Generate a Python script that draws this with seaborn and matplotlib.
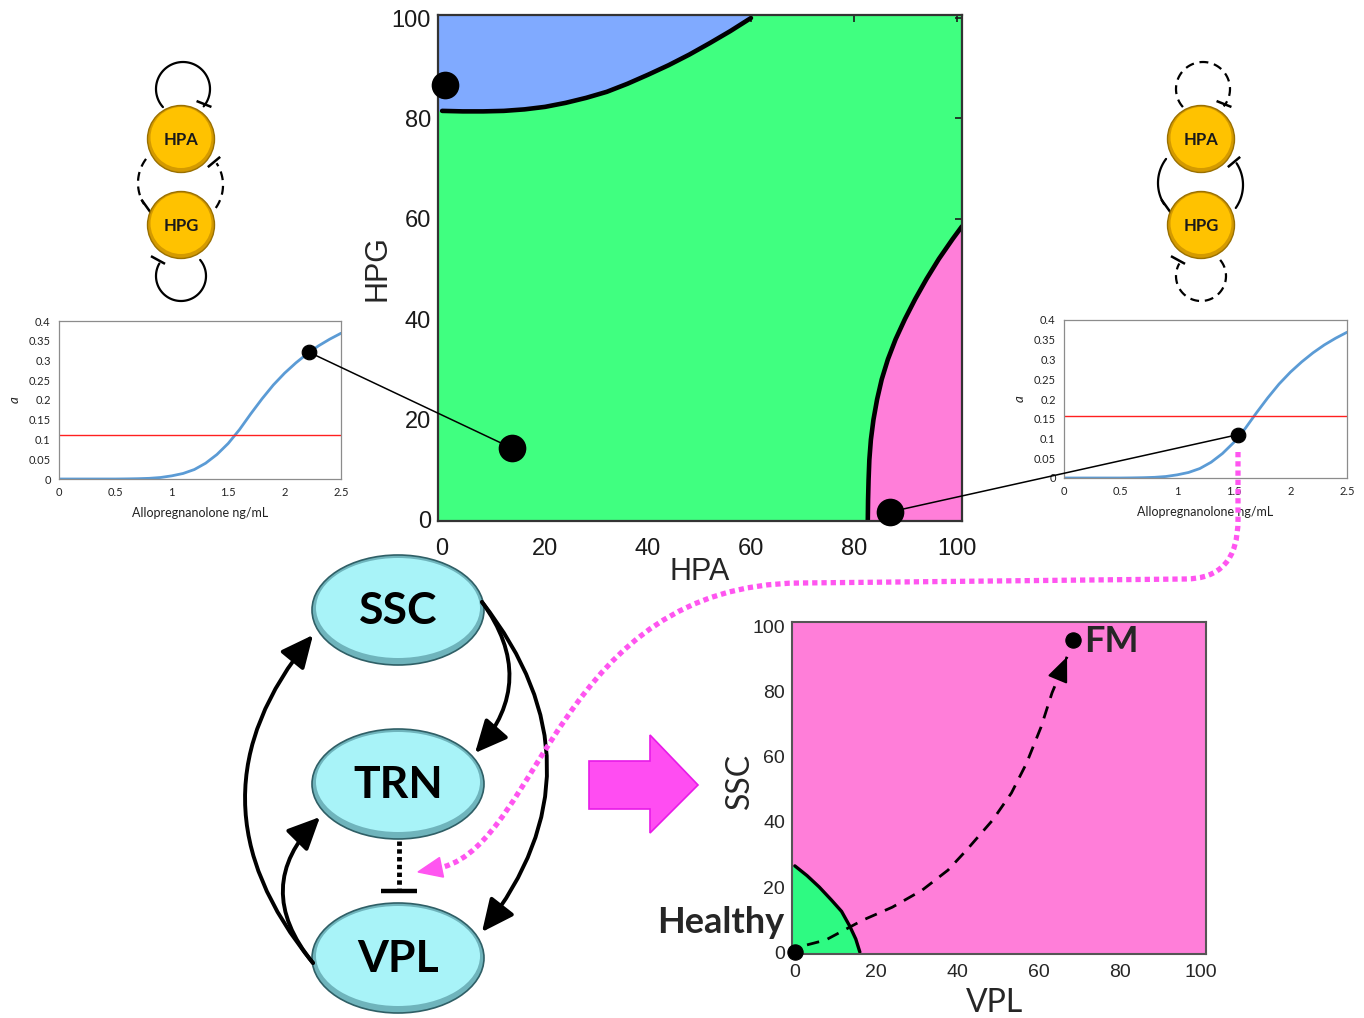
import numpy as np
import seaborn as sns
import matplotlib.pyplot as plt
from matplotlib.patches import Ellipse, Circle, Polygon, FancyArrowPatch, ConnectionPatch, PathPatch
from matplotlib.path import Path

# ---------------- data ----------------
# sigmoid alpha response vs allopregnanolone (both side panels)
allo = [0.0, 0.1, 0.2, 0.3, 0.4, 0.5, 0.6, 0.7, 0.8, 0.9, 1.0, 1.1, 1.2, 1.3,
        1.4, 1.5, 1.6, 1.7, 1.8, 1.9, 2.0, 2.1, 2.2, 2.3, 2.4, 2.5]
alpha = [0.0, 0.0, 0.0, 0.0, 0.0, 0.0, 0.0003, 0.0008, 0.0017, 0.0038, 0.008, 0.014,
         0.024, 0.040, 0.062, 0.090, 0.125, 0.165, 0.203, 0.238, 0.268, 0.294,
         0.317, 0.337, 0.354, 0.369]
threshold_left = 0.111
threshold_right = 0.158
point_left = (2.216, 0.321)
point_right = (1.54, 0.110)

# HPA / HPG phase plane
blue_hpa = [0, 4, 8, 12, 16, 20, 24, 28, 32, 36, 40, 44, 48, 52, 56, 60]
blue_hpg = [81.5, 81.4, 81.4, 81.5, 81.8, 82.3, 83.1, 84.1, 85.3, 86.9, 88.7, 90.6,
            92.7, 95.0, 97.4, 100]
pink_hpg = [0, 4, 8, 12, 16, 20, 24, 28, 32, 36, 40, 44, 48, 52, 56, 58.5]
pink_hpa = [82.7, 82.75, 82.85, 83.0, 83.3, 83.8, 84.5, 85.4, 86.6, 88.1, 89.9, 91.9,
            94.1, 96.5, 99.2, 101]
state_hpa = [0.5, 13.6, 87.0]
state_hpg = [86.7, 14.3, 1.6]

# VPL / SSC phase plane
healthy_vpl = [0, 3, 6, 9, 11.5, 13.5, 15, 16]
healthy_ssc = [26.5, 23.5, 20, 16, 12.5, 8, 4, 0]
traj_vpl = [3, 7.6, 16.7, 24, 31.3, 37.7, 42.3, 48.7, 53.3, 57, 60.6, 63.3, 67]
traj_ssc = [2.2, 3.7, 9.8, 13.8, 19, 25.2, 31.4, 40.6, 48.9, 58, 69.2, 79.7, 90.8]
fix_vpl = [0, 68.4]
fix_ssc = [0, 96]
fix_names = ["Healthy", "FM"]

ticks_100 = [0, 20, 40, 60, 80, 100]
allo_ticks = [0, 0.5, 1, 1.5, 2, 2.5]
alpha_ticks = [0, 0.05, 0.1, 0.15, 0.2, 0.25, 0.3, 0.35, 0.4]

GREEN = '#40FF80'
BLUE = '#80AAFF'
PINK = '#FF7ED9'
CURVE = '#5B9BD5'
MAGENTA = '#FF55F0'

sns.set_theme(style="white")
plt.rcParams['font.family'] = ['Liberation Sans', 'DejaVu Sans']
CAL = ['Lato', 'DejaVu Sans']

W, H = 1364, 1018
fig = plt.figure(figsize=(W / 100, H / 100), dpi=100)
fig.patch.set_facecolor('white')


def place(x0, y0, x1, y1):
    return fig.add_axes([x0 / W, 1 - y1 / H, (x1 - x0) / W, (y1 - y0) / H])


# ---------------- side panels ----------------
def side_panel(box, thr, pt):
    ax = place(*box)
    sns.lineplot(x=allo, y=alpha, color=CURVE, lw=2, ax=ax)
    ax.axhline(thr, color='#FF2020', lw=1)
    sns.scatterplot(x=[pt[0]], y=[pt[1]], s=110, color='black', edgecolor='black',
                    zorder=5, clip_on=False, ax=ax)
    ax.set_xlim(0, 2.5)
    ax.set_ylim(0, 0.4)
    ax.set_xticks(allo_ticks)
    ax.set_xticklabels([f"{v:g}" for v in allo_ticks], family=CAL, fontsize=8)
    ax.set_yticks(alpha_ticks)
    ax.set_yticklabels([f"{v:g}" for v in alpha_ticks], family=CAL, fontsize=8)
    ax.tick_params(length=0, pad=6, colors='#222222')
    for s in ax.spines.values():
        s.set_visible(True)
        s.set_color('#8C8C8C')
        s.set_linewidth(0.9)
    ax.set_xlabel("Allopregnanolone ng/mL", family=CAL, fontsize=9, color='#222222')
    ax.set_ylabel("a", family=CAL, fontsize=9.5, style='italic', color='#222222')
    ax.xaxis.set_label_coords(0.5, -0.18)
    ax.yaxis.set_label_coords(-0.135, 0.5)
    return ax


ax_l = side_panel((59, 321, 341, 479), threshold_left, point_left)
ax_r = side_panel((1064, 320, 1347, 478), threshold_right, point_right)

# ---------------- HPA / HPG phase plane ----------------
ax_m = place(438, 15, 962, 521)
ax_m.set_facecolor(GREEN)
xlo, xhi, ylo, yhi = -0.8, 101, -0.2, 100.6
ax_m.fill_between(np.r_[xlo, blue_hpa], np.r_[blue_hpg[0], blue_hpg], yhi + 1,
                  color=BLUE, lw=0)
ax_m.fill_betweenx(np.r_[ylo - 1, pink_hpg], np.r_[pink_hpa[0], pink_hpa], xhi + 1,
                   color=PINK, lw=0)
sns.lineplot(x=blue_hpa, y=blue_hpg, sort=False, color='black', lw=3.3, ax=ax_m)
sns.lineplot(x=pink_hpa, y=pink_hpg, sort=False, color='black', lw=3.3, ax=ax_m)
sns.scatterplot(x=state_hpa, y=state_hpg, s=340, color='black', edgecolor='black',
                zorder=6, clip_on=False, ax=ax_m)
ax_m.set_xlim(xlo, xhi)
ax_m.set_ylim(ylo, yhi)
ax_m.set_xticks(ticks_100)
ax_m.set_yticks(ticks_100)
ax_m.tick_params(direction='in', top=True, right=True, length=5, width=1.2,
                 labelsize=17, colors='#1a1a1a')
ax_m.tick_params(axis='x', pad=12)
ax_m.tick_params(axis='y', pad=5)
for s in ax_m.spines.values():
    s.set_visible(True)
    s.set_color('#333333')
    s.set_linewidth(1.6)
ax_m.set_xlabel("HPA", fontsize=22)
ax_m.set_ylabel("HPG", fontsize=22)
ax_m.xaxis.set_label_coords(0.5, -0.1)
ax_m.xaxis.label.set_va('center')
ax_m.yaxis.set_label_coords(-0.115, 0.5)
ax_m.yaxis.label.set_va('center')

# ---------------- VPL / SSC phase plane ----------------
ax_b = place(792, 622, 1206, 954)
ax_b.set_facecolor(PINK)
bxlo, bxhi, bylo, byhi = -0.7, 101.2, -0.6, 101.5
ax_b.fill_between(np.r_[bxlo, healthy_vpl], bylo - 1, np.r_[healthy_ssc[0], healthy_ssc],
                  color='#2EFA82', lw=0)
sns.lineplot(x=healthy_vpl, y=healthy_ssc, sort=False, color='black', lw=2.4, ax=ax_b)
sns.lineplot(x=traj_vpl, y=traj_ssc, sort=False, color='black', lw=2, ax=ax_b)
ax_b.lines[-1].set_dashes((4.5, 3.2))
tail = (traj_vpl[-1] - 0.05 * (traj_vpl[-1] - traj_vpl[-2]),
        traj_ssc[-1] - 0.05 * (traj_ssc[-1] - traj_ssc[-2]))
ax_b.annotate('', xy=(traj_vpl[-1], traj_ssc[-1]), xytext=tail,
              arrowprops=dict(arrowstyle='-|>,head_length=0.9,head_width=0.38',
                              color='black', lw=1.5, mutation_scale=17,
                              shrinkA=0, shrinkB=0))
sns.scatterplot(x=fix_vpl, y=fix_ssc, s=120, color='black', edgecolor='black',
                zorder=6, clip_on=False, ax=ax_b)
ax_b.text(fix_vpl[1] + 2.8, fix_ssc[1] - 0.5, fix_names[1], family=CAL, fontsize=26,
          fontweight='bold', ha='left', va='center', clip_on=False)
ax_b.text(fix_vpl[0] - 2.5, fix_ssc[0] + 9.2, fix_names[0], family=CAL, fontsize=26,
          fontweight='bold', ha='right', va='center', clip_on=False)
ax_b.set_xlim(bxlo, bxhi)
ax_b.set_ylim(bylo, byhi)
ax_b.set_xticks(ticks_100)
ax_b.set_yticks(ticks_100)
ax_b.tick_params(length=0, labelsize=14, colors='#262626')
ax_b.tick_params(axis='x', pad=7)
ax_b.tick_params(axis='y', pad=5)
for s in ax_b.spines.values():
    s.set_visible(True)
    s.set_color('#555555')
    s.set_linewidth(1.5)
ax_b.set_xlabel("VPL", family=CAL, fontsize=23)
ax_b.set_ylabel("SSC", family=CAL, fontsize=23)
ax_b.xaxis.set_label_coords(0.49, -0.148)
ax_b.xaxis.label.set_va('center')
ax_b.yaxis.set_label_coords(-0.126, 0.52)
ax_b.yaxis.label.set_va('center')

# links from the alpha curves to the phase-plane states
for src_ax, src, i in [(ax_l, point_left, 1), (ax_r, point_right, 2)]:
    con = ConnectionPatch(xyA=src, coordsA=src_ax.transData,
                          xyB=(state_hpa[i], state_hpg[i]), coordsB=ax_m.transData,
                          color='black', lw=1.1, zorder=3)
    fig.add_artist(con)

# ---------------- diagrams overlay (pixel space) ----------------
ov = fig.add_axes([0, 0, 1, 1], zorder=20)
ov.set_xlim(0, W)
ov.set_ylim(H, 0)
ov.axis('off')
ov.patch.set_alpha(0)


def arc(cx, cy, r, t0, t1, n=80):
    th = np.radians(np.linspace(t0, t1, n))
    return cx + r * np.cos(th), cy - r * np.sin(th)


def bar(x, y, dx, dy, half=8, lw=1.8):
    ov.plot([x - half * dx, x + half * dx], [y - half * dy, y + half * dy],
            color='black', lw=lw, solid_capstyle='butt')


def loop_line(xs, ys, dashed):
    ln, = ov.plot(xs, ys, color='black', lw=1.6)
    if dashed:
        ln.set_dashes((4, 2.6))


def hpa_hpg(ox, self_dashed, cross_dashed):
    loop_line(*arc(183 + ox, 89, 27, 222, -40), self_dashed)
    loop_line(*arc(181 + ox, 276, 25, 40, -210), self_dashed)
    loop_line(*arc(178 + ox, 183, 40, 143, 212), cross_dashed)
    loop_line(*arc(183 + ox, 185, 40, -35, 33), cross_dashed)
    for cy, name in [(139, "HPA"), (225, "HPG")]:
        ov.add_patch(Circle((181 + ox, cy), 33.5, facecolor='#D49A00', edgecolor='#9A7000',
                            lw=1.0, zorder=3))
        ov.add_patch(Circle((181 + ox, cy - 1.5), 30.5, facecolor='#FFC200', edgecolor='none',
                            zorder=3))
        ov.text(181 + ox, cy + 1, name, family=CAL, fontsize=12, fontweight='bold',
                color='#1a1a1a', ha='center', va='center', zorder=4)
    bar(204 + ox, 104, 0.93, 0.37)
    bar(158 + ox, 260, 0.88, 0.48)
    bar(146 + ox, 206, 0.58, 0.81)
    bar(214 + ox, 162, 0.77, -0.64)


hpa_hpg(0, self_dashed=False, cross_dashed=True)
hpa_hpg(1020, self_dashed=True, cross_dashed=False)

# thalamocortical network
for cy, name in [(610, "SSC"), (784, "TRN"), (958, "VPL")]:
    ov.add_patch(Ellipse((398, cy), 172, 110, facecolor='#6FB4BC', edgecolor='#2F5F66',
                         lw=1.2, zorder=3))
    ov.add_patch(Ellipse((398, cy - 2), 164, 100, facecolor='#A8F3F8', edgecolor='none',
                         zorder=3))
    ov.text(398, cy + 1, name, family=CAL, fontsize=32, fontweight='bold', color='black',
            ha='center', va='center', zorder=4)

arrow_kw = dict(arrowstyle='-|>,head_length=0.9,head_width=0.42', mutation_scale=22,
                color='black', lw=2.8, shrinkA=0, shrinkB=0, zorder=5)
for a, b, rad in [((482, 602), (475, 753), -0.4),
                  ((482, 602), (482, 932), -0.39),
                  ((313, 963), (313, 635), -0.41),
                  ((313, 963), (320, 817), -0.45)]:
    ov.add_patch(FancyArrowPatch(a, b, connectionstyle=f"arc3,rad={rad}", **arrow_kw))

inh, = ov.plot([399, 399], [841, 888], color='black', lw=3.5, zorder=5)
inh.set_dashes((0.9, 0.7))
ov.plot([381, 417], [891, 891], color='black', lw=3.2, zorder=5, solid_capstyle='butt')

# block arrow
ov.add_patch(Polygon([(589, 761), (650, 761), (650, 735), (698, 785), (650, 833),
                      (650, 809), (589, 809)], closed=True, facecolor='#FF4DF2',
                     edgecolor='#E81BE8', lw=1.2, zorder=4))

# dotted link from the right alpha curve into the network
verts = [(1238, 452), (1238, 520), (1238, 579), (1185, 579), (800, 583),
         (560, 585), (540, 840), (443, 867)]
codes = [Path.MOVETO, Path.LINETO, Path.CURVE3, Path.CURVE3, Path.LINETO,
         Path.CURVE4, Path.CURVE4, Path.CURVE4]
ov.add_patch(PathPatch(Path(verts, codes), fill=False, edgecolor=MAGENTA, lw=3.8,
                       linestyle=(0, (1, 0.75)), capstyle='butt', zorder=6))
ov.add_patch(Polygon([(418, 872), (439.5, 857.5), (443.5, 877.1)], closed=True,
                     facecolor=MAGENTA, edgecolor=MAGENTA, lw=1, zorder=6))

fig.savefig('out.png', dpi=100)
